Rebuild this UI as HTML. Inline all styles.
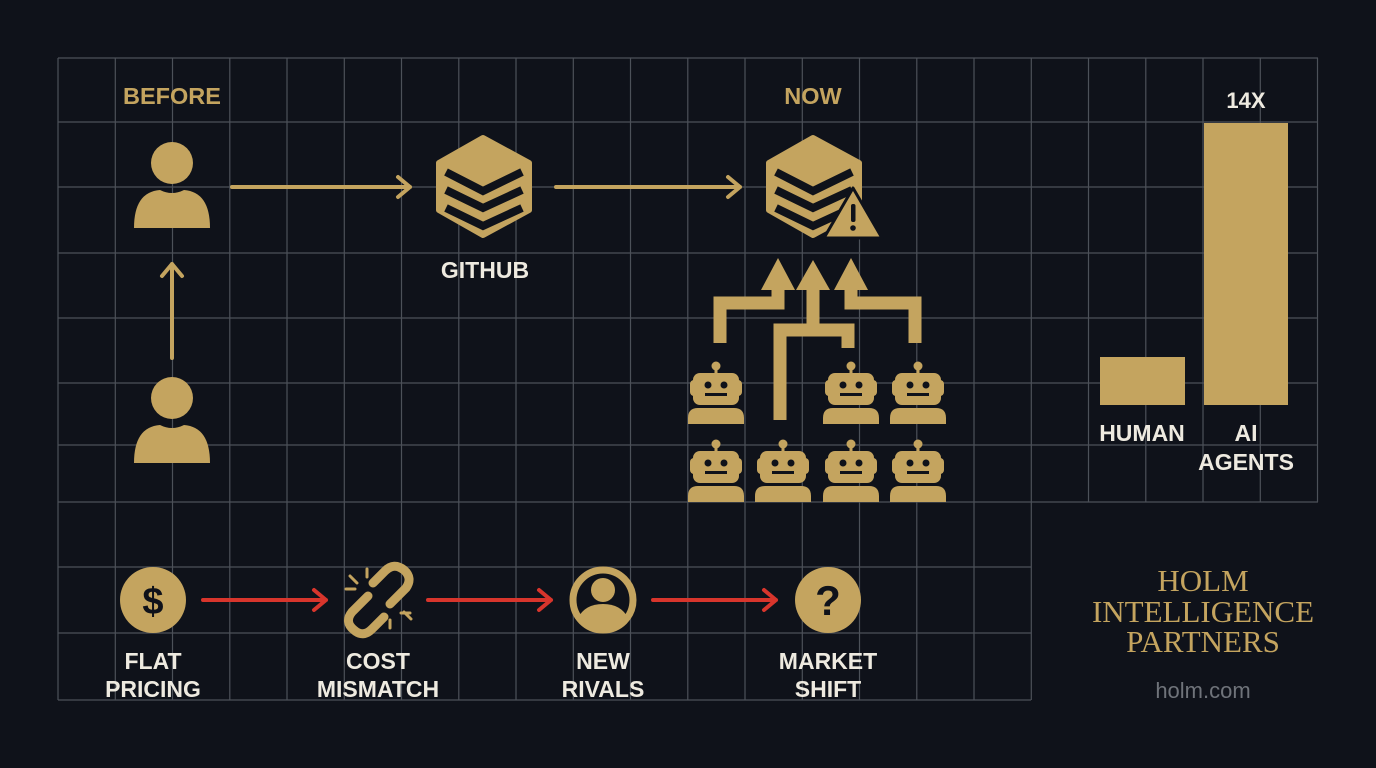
<!DOCTYPE html>
<html><head><meta charset="utf-8"><style>
html,body{margin:0;padding:0;background:#0f121a;}
svg{display:block}
.b{font-family:"Liberation Sans",sans-serif;font-weight:bold;}
</style></head><body>
<svg width="1376" height="768" viewBox="0 0 1376 768" xmlns="http://www.w3.org/2000/svg">
<rect width="1376" height="768" fill="#0f121a"/>
<g stroke="#4c5159" stroke-width="1.2" fill="none">
<path d="M58 58V700 M115.3 58V700 M172.5 58V700 M229.8 58V700 M287 58V700 M344.3 58V700 M401.5 58V700 M458.8 58V700 M516 58V700 M573.3 58V700 M630.5 58V700 M687.8 58V700 M745 58V700 M802.3 58V700 M859.5 58V700 M916.8 58V700 M974 58V700 M1031.3 58V700 M1088.5 58V502 M1145.8 58V502 M1203 58V502 M1260.3 58V502 M1317.5 58V502"/>
<path d="M58 58H1318 M58 122H1318 M58 187H1318 M58 253H1318 M58 318H1318 M58 383H1318 M58 445H1318 M58 502H1318 M58 567H1031 M58 633H1031 M58 700H1031"/>
</g>
<g fill="#c4a45f" stroke="none">
<circle cx="172" cy="163" r="21"/>
<path d="M134 228 Q134 192 160 190 Q172 196 184 190 Q210 192 210 228 Z"/>
<circle cx="172" cy="398" r="21"/>
<path d="M134 463 Q134 427 160 425 Q172 431 184 425 Q210 427 210 463 Z"/>
<path d="M483 138 L529 163 L529 210 L483 235 L439 210 L439 163 Z" stroke="#c4a45f" stroke-width="6" stroke-linejoin="round"/>
<path d="M813 138 L859 163 L859 210 L813 235 L769 210 L769 163 Z" stroke="#c4a45f" stroke-width="6" stroke-linejoin="round"/>
</g>
<g stroke="#0f121a" stroke-width="8" fill="none">
<path d="M446 172 L483 191 L522 172 M446 190 L483 208 L522 190 M446 208 L483 226 L522 208"/>
<path d="M776 172 L813 191 L852 172 M776 190 L813 208 L852 190 M776 208 L813 226 L852 208"/>
</g>
<path d="M853 188 L882 238 L824 238 Z" fill="#c4a45f" stroke="#0f121a" stroke-width="3" stroke-linejoin="round"/>
<rect x="851" y="204" width="4.5" height="18" rx="2" fill="#0f121a"/>
<circle cx="853" cy="228" r="2.8" fill="#0f121a"/>
<g stroke="#c4a45f" stroke-width="4" fill="none" stroke-linecap="round" stroke-linejoin="round">
<path d="M232 187H410 M398 177L410 187L398 197"/>
<path d="M556 187H740 M728 177L740 187L728 197"/>
<path d="M172 358V264 M162 276L172 264L182 276"/>
</g>
<g stroke="#c4a45f" stroke-width="13" fill="none" stroke-linejoin="miter">
<path d="M720 343V303H778V285"/>
<path d="M813 285V330 M780 420V330H848V348"/>
<path d="M915 343V303H851V285"/>
</g>
<g fill="#c4a45f">
<path d="M778 258L795 290H761Z"/>
<path d="M813 260L830 290H796Z"/>
<path d="M851 258L868 290H834Z"/>
</g>
<defs>
<g id="rb">
<circle cx="0" cy="0" r="4.5" fill="#c4a45f"/>
<rect x="-1.5" y="2" width="3" height="6" fill="#c4a45f"/>
<rect x="-23" y="7" width="46" height="32" rx="7" fill="#c4a45f"/>
<rect x="-26" y="14" width="52" height="16" rx="4" fill="#c4a45f"/>
<circle cx="-8" cy="19" r="3.5" fill="#0f121a"/>
<circle cx="8" cy="19" r="3.5" fill="#0f121a"/>
<rect x="-11" y="27" width="22" height="3" fill="#0f121a"/>
<path d="M-28 58 V52 Q-28 42 -18 42 H18 Q28 42 28 52 V58 Z" fill="#c4a45f"/>
</g>
</defs>
<use href="#rb" x="716" y="366"/>
<use href="#rb" x="851" y="366"/>
<use href="#rb" x="918" y="366"/>
<use href="#rb" x="716" y="444"/>
<use href="#rb" x="783" y="444"/>
<use href="#rb" x="851" y="444"/>
<use href="#rb" x="918" y="444"/>
<rect x="1100" y="357" width="85" height="48" fill="#c4a45f"/>
<rect x="1204" y="123" width="84" height="282" fill="#c4a45f"/>
<g class="b" text-anchor="middle">
<text x="172" y="104" font-size="23.5" fill="#c4a45f">BEFORE</text>
<text x="813" y="104" font-size="23.5" fill="#c4a45f">NOW</text>
<text x="485" y="278" font-size="23" fill="#eeeae0">GITHUB</text>
<text x="1246" y="108" font-size="22" fill="#eeeae0">14X</text>
<text x="1142" y="441" font-size="23" fill="#eeeae0">HUMAN</text>
<text x="1246" y="441" font-size="23" fill="#eeeae0">AI</text>
<text x="1246" y="470" font-size="23" fill="#eeeae0">AGENTS</text>
<text x="153" y="669" font-size="23" fill="#eeeae0">FLAT</text>
<text x="153" y="697" font-size="23" fill="#eeeae0">PRICING</text>
<text x="378" y="669" font-size="23" fill="#eeeae0">COST</text>
<text x="378" y="697" font-size="23" fill="#eeeae0">MISMATCH</text>
<text x="603" y="669" font-size="23" fill="#eeeae0">NEW</text>
<text x="603" y="697" font-size="23" fill="#eeeae0">RIVALS</text>
<text x="828" y="669" font-size="23" fill="#eeeae0">MARKET</text>
<text x="828" y="697" font-size="23" fill="#eeeae0">SHIFT</text>
</g>
<circle cx="153" cy="600" r="33" fill="#c4a45f"/>
<text x="153" y="614" text-anchor="middle" class="b" font-size="38" fill="#0f121a">$</text>
<g stroke="#c4a45f" stroke-width="9" fill="none" stroke-linecap="round">
<path d="M368 596 L352 612 Q344 622 354 630 Q363 638 372 629 L384 617"/>
<path d="M390 604 L406 588 Q413 578 404 570 Q394 562 385 571 L373 583"/>
</g>
<g stroke="#c4a45f" stroke-width="3" stroke-linecap="round">
<path d="M350 576L357 583 M346 589H355 M367 569V577 M404 612L411 619 M401 613H410 M390 620V628"/>
</g>
<circle cx="603" cy="600" r="30" fill="none" stroke="#c4a45f" stroke-width="7"/>
<circle cx="603" cy="590" r="12" fill="#c4a45f"/>
<path d="M578 618 Q585 604 603 604 Q621 604 628 618 Q618 630 603 630 Q588 630 578 618Z" fill="#c4a45f"/>
<circle cx="828" cy="600" r="33" fill="#c4a45f"/>
<text x="828" y="615" text-anchor="middle" class="b" font-size="42" fill="#0f121a">?</text>
<g stroke="#d8352c" stroke-width="4" fill="none" stroke-linecap="round" stroke-linejoin="round">
<path d="M203 600H326 M314 590L326 600L314 610"/>
<path d="M428 600H551 M539 590L551 600L539 610"/>
<path d="M653 600H776 M764 590L776 600L764 610"/>
</g>
<g font-family="'Liberation Serif',serif" fill="#c4a45f" text-anchor="middle" font-size="31">
<text x="1203" y="591">HOLM</text>
<text x="1203" y="622">INTELLIGENCE</text>
<text x="1203" y="652">PARTNERS</text>
</g>
<text x="1203" y="698" text-anchor="middle" font-family="'Liberation Sans',sans-serif" font-size="22" fill="#6f737a">holm.com</text>
</svg>
</body></html>
